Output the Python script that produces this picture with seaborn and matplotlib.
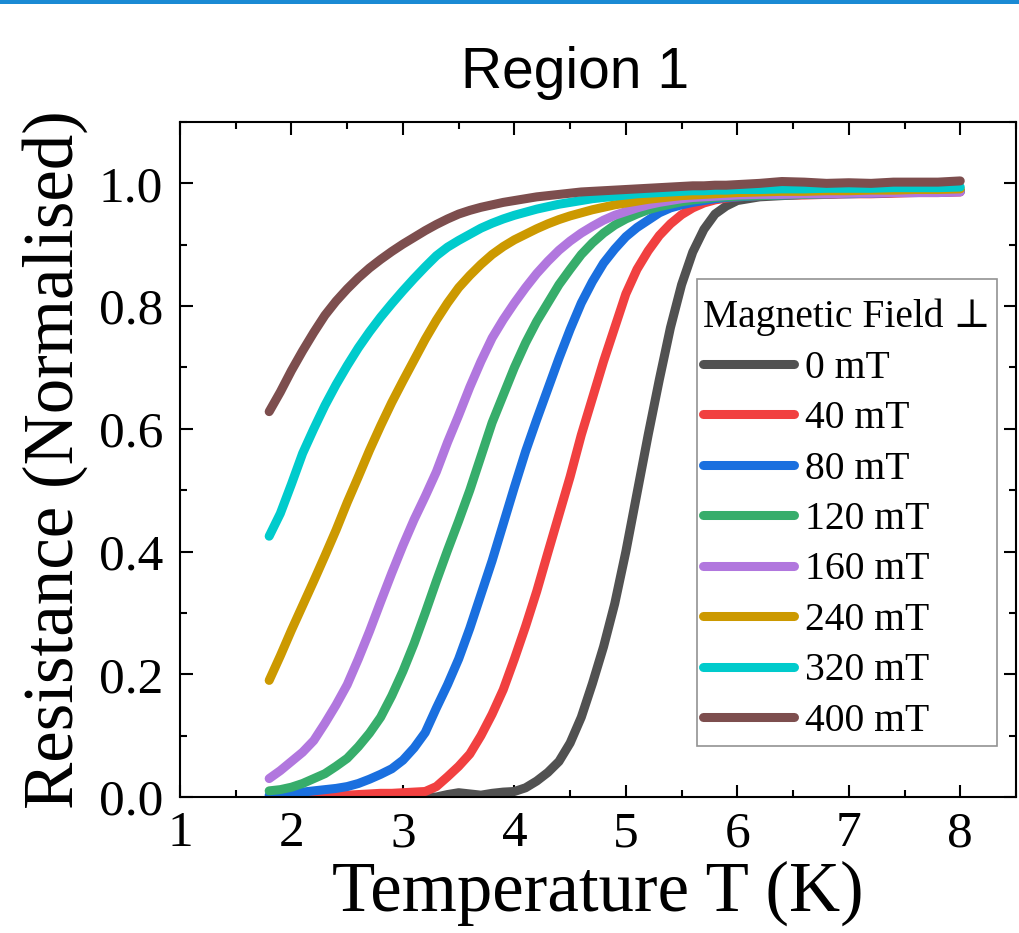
import matplotlib
matplotlib.use("Agg")
import matplotlib.pyplot as plt
from matplotlib.patches import Rectangle
from matplotlib.offsetbox import DrawingArea
from matplotlib.ticker import MultipleLocator, FormatStrFormatter
import pandas as pd
import seaborn as sns

# temperature grid (K)
temperature = [1.8, 1.9, 2.0, 2.1, 2.2, 2.3, 2.4, 2.5, 2.6, 2.7,
               2.8, 2.9, 3.0, 3.1, 3.2, 3.3, 3.4, 3.5, 3.6, 3.7,
               3.8, 3.9, 4.0, 4.1, 4.2, 4.3, 4.4, 4.5, 4.6, 4.7,
               4.8, 4.9, 5.0, 5.1, 5.2, 5.3, 5.4, 5.5, 5.6, 5.7,
               5.8, 5.9, 6.0,
               6.2, 6.4, 6.6, 6.8, 7.0, 7.2, 7.4, 7.6, 7.8, 8.0]

# normalised resistance for each perpendicular field
r_0mT = [0, 0, 0, 0, 0, 0, 0, 0, 0, 0,
         0, 0, 0, 0, 0, 0, 0.004, 0.007, 0.005, 0.003,
         0.006, 0.008, 0.009, 0.015, 0.026, 0.040, 0.058, 0.088, 0.130, 0.185,
         0.245, 0.315, 0.400, 0.495, 0.590, 0.680, 0.765, 0.835, 0.888, 0.925,
         0.950, 0.963, 0.972,
         0.978, 0.980, 0.982, 0.983, 0.984, 0.984, 0.985, 0.986, 0.987, 0.988]
r_40mT = [0, 0, 0, 0.001, 0.001, 0.002, 0.002, 0.003, 0.004, 0.005,
          0.006, 0.006, 0.007, 0.008, 0.009, 0.017, 0.033, 0.050, 0.070, 0.100,
          0.135, 0.175, 0.225, 0.278, 0.335, 0.398, 0.460, 0.522, 0.590, 0.650,
          0.710, 0.765, 0.820, 0.860, 0.890, 0.915, 0.934, 0.949, 0.960, 0.968,
          0.973, 0.976, 0.978,
          0.980, 0.981, 0.981, 0.982, 0.983, 0.983, 0.984, 0.985, 0.985, 0.986]
r_80mT = [0.003, 0.004, 0.006, 0.008, 0.010, 0.012, 0.014, 0.017, 0.022, 0.029,
          0.037, 0.046, 0.060, 0.080, 0.105, 0.145, 0.183, 0.225, 0.275, 0.330,
          0.385, 0.445, 0.505, 0.563, 0.615, 0.665, 0.715, 0.762, 0.805, 0.840,
          0.870, 0.893, 0.913, 0.928, 0.940, 0.952, 0.960, 0.965, 0.969, 0.972,
          0.975, 0.977, 0.978,
          0.980, 0.981, 0.982, 0.983, 0.983, 0.984, 0.985, 0.985, 0.986, 0.987]
r_120mT = [0.010, 0.012, 0.016, 0.022, 0.030, 0.038, 0.050, 0.063, 0.082, 0.104,
           0.130, 0.165, 0.205, 0.250, 0.300, 0.352, 0.402, 0.450, 0.500, 0.555,
           0.610, 0.655, 0.700, 0.740, 0.775, 0.805, 0.835, 0.860, 0.884, 0.903,
           0.919, 0.932, 0.942, 0.950, 0.957, 0.962, 0.966, 0.970, 0.973, 0.975,
           0.977, 0.978, 0.979,
           0.980, 0.981, 0.982, 0.983, 0.984, 0.985, 0.986, 0.986, 0.987, 0.988]
r_160mT = [0.030, 0.043, 0.058, 0.073, 0.092, 0.120, 0.150, 0.183, 0.225, 0.270,
           0.318, 0.365, 0.410, 0.452, 0.490, 0.530, 0.578, 0.622, 0.668, 0.710,
           0.748, 0.778, 0.805, 0.830, 0.853, 0.873, 0.891, 0.906, 0.919, 0.930,
           0.940, 0.948, 0.954, 0.960, 0.965, 0.969, 0.972, 0.975, 0.977, 0.978,
           0.979, 0.980, 0.981,
           0.982, 0.982, 0.983, 0.983, 0.984, 0.984, 0.985, 0.985, 0.985, 0.986]
r_240mT = [0.190, 0.230, 0.272, 0.312, 0.352, 0.393, 0.435, 0.480, 0.522, 0.565,
           0.605, 0.643, 0.678, 0.712, 0.746, 0.777, 0.805, 0.830, 0.850, 0.868,
           0.884, 0.897, 0.908, 0.917, 0.926, 0.934, 0.941, 0.947, 0.952, 0.957,
           0.961, 0.965, 0.968, 0.971, 0.974, 0.976, 0.978, 0.980, 0.981, 0.982,
           0.983, 0.984, 0.985,
           0.986, 0.987, 0.987, 0.988, 0.988, 0.989, 0.989, 0.990, 0.990, 0.991]
r_320mT = [0.425, 0.462, 0.510, 0.560, 0.600, 0.638, 0.672, 0.703, 0.732, 0.758,
           0.782, 0.804, 0.825, 0.845, 0.864, 0.882, 0.896, 0.907, 0.917, 0.927,
           0.935, 0.942, 0.948, 0.953, 0.958, 0.962, 0.966, 0.969, 0.972, 0.975,
           0.977, 0.979, 0.981, 0.983, 0.984, 0.985, 0.986, 0.987, 0.988, 0.988,
           0.989, 0.989, 0.990,
           0.990, 0.991, 0.991, 0.992, 0.992, 0.992, 0.993, 0.993, 0.993, 0.994]
r_400mT = [0.628, 0.660, 0.695, 0.727, 0.757, 0.785, 0.808, 0.828, 0.846, 0.862,
           0.876, 0.889, 0.901, 0.912, 0.923, 0.933, 0.942, 0.950, 0.956, 0.961,
           0.965, 0.969, 0.972, 0.975, 0.978, 0.980, 0.982, 0.984, 0.986, 0.987,
           0.988, 0.989, 0.990, 0.991, 0.992, 0.993, 0.994, 0.995, 0.996, 0.996,
           0.997, 0.997, 0.998,
           1.000, 1.003, 1.002, 1.000, 1.001, 1.000, 1.002, 1.002, 1.002, 1.004]

field_labels = ["0 mT", "40 mT", "80 mT", "120 mT", "160 mT", "240 mT", "320 mT", "400 mT"]
series = [r_0mT, r_40mT, r_80mT, r_120mT, r_160mT, r_240mT, r_320mT, r_400mT]
colors = ["#515151", "#F14040", "#1A6FDF", "#37AD6B", "#B177DE", "#CC9900", "#00CBCC", "#7D4E4E"]

# long-form table for seaborn
df = pd.concat([pd.DataFrame({"T": temperature, "R": r, "Field": lab})
                for lab, r in zip(field_labels, series)], ignore_index=True)

sns.set_theme(style="ticks")
plt.rcParams['font.family'] = ['Liberation Serif', 'DejaVu Serif']
plt.rcParams.update({'text.color': 'black', 'axes.labelcolor': 'black',
                     'xtick.color': 'black', 'ytick.color': 'black',
                     'axes.edgecolor': 'black'})

fig = plt.figure(figsize=(10.19, 9.33), dpi=100)
ax = fig.add_axes([180 / 1019, 136 / 933, 836 / 1019, 675 / 933])

sns.lineplot(data=df, x="T", y="R", hue="Field", hue_order=field_labels,
             palette=dict(zip(field_labels, colors)), linewidth=6.5,
             errorbar=None, ax=ax, solid_capstyle='round', solid_joinstyle='round')

ax.set_xlim(1, 8.5)
ax.set_ylim(0, 1.1)
ax.xaxis.set_major_locator(MultipleLocator(1))
ax.xaxis.set_minor_locator(MultipleLocator(0.5))
ax.yaxis.set_major_locator(MultipleLocator(0.2))
ax.yaxis.set_minor_locator(MultipleLocator(0.1))
ax.yaxis.set_major_formatter(FormatStrFormatter('%.1f'))

ax.tick_params(which='both', direction='in', top=True, right=True, width=1.5, color='black')
ax.tick_params(which='major', length=9, labelsize=37, labelcolor='black')
ax.tick_params(axis='x', which='major', pad=10)
ax.tick_params(axis='y', which='major', pad=12)
ax.tick_params(which='minor', length=5)
for s in ax.spines.values():
    s.set_linewidth(1.5)
    s.set_color('black')

ax.set_xlabel("Temperature T (K)", fontsize=51, labelpad=2, color='black')
ax.set_ylabel("Resistance (Normalised)", fontsize=51, labelpad=8, color='black')

# legend
handles, labels = ax.get_legend_handles_labels()
leg = ax.legend(handles, labels, title="Magnetic Field \u22a5",
                loc='upper right', bbox_to_anchor=(0.977, 0.767), borderaxespad=0,
                prop={'size': 28.5}, title_fontproperties={'size': 28.5},
                frameon=True, fancybox=False, borderpad=0.15,
                handlelength=2.3, handletextpad=0.28, labelspacing=0.34)
leg.get_frame().set_edgecolor('#777777')
leg.get_frame().set_linewidth(1.2)
leg._legend_box.align = 'left'
# a little extra room above the title
leg._legend_box._children.insert(0, DrawingArea(1, 0))
for t in leg.get_texts():
    t.set_color('black')
leg.get_title().set_color('black')
for h in leg.legend_handles:
    h.set_linewidth(6.5)
    h.set_solid_capstyle('round')

fig.text(575 / 1019, 1 - 88 / 933, "Region 1", ha='center', va='baseline', color='black',
         fontsize=41, family=['Liberation Sans', 'DejaVu Sans'])

# blue band at the top edge
fig.add_artist(Rectangle((0, 1 - 4 / 933), 1, 4 / 933, transform=fig.transFigure,
                         color='#1a8ad4', lw=0))

fig.savefig("out.png", dpi=100)
